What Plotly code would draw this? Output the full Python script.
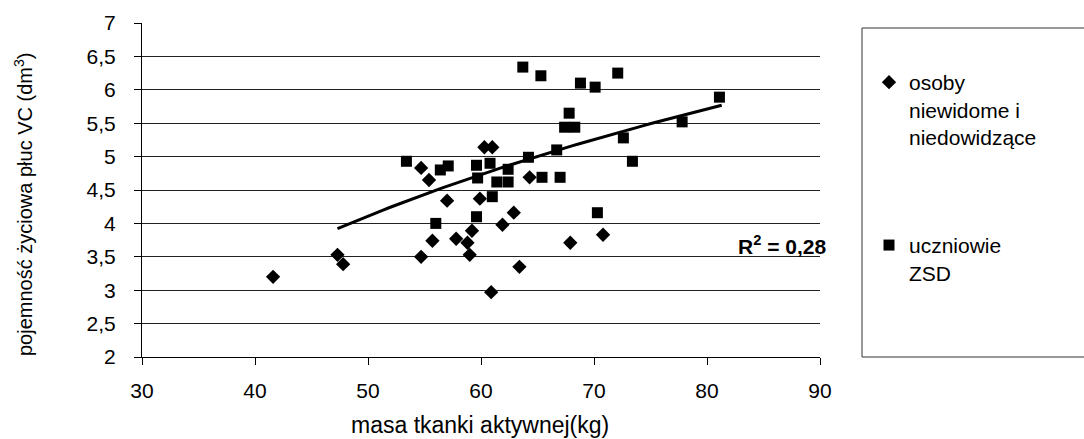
import numpy as np
import plotly.graph_objects as go

# --- data ---
blind_x = [41.6, 47.3, 47.8, 54.7, 55.7, 57.8, 58.8, 59.2, 59.0, 60.9, 61.9,
           62.9, 63.4, 67.9, 70.8, 57.0, 59.9, 54.7, 55.4, 60.3, 61.0, 64.3]
blind_y = [3.20, 3.53, 3.39, 3.50, 3.74, 3.77, 3.71, 3.89, 3.53, 2.97, 3.98,
           4.16, 3.35, 3.71, 3.83, 4.34, 4.37, 4.83, 4.65, 5.14, 5.14, 4.69]

zsd_x = [63.7, 65.3, 68.8, 70.1, 72.1, 67.8, 67.4, 68.3, 72.6, 73.4, 66.7,
         64.2, 53.4, 56.4, 57.1, 59.6, 60.8, 62.4, 59.7, 61.4, 62.4, 65.4,
         67.0, 61.0, 56.0, 59.6, 70.3, 81.1, 77.8]
zsd_y = [6.34, 6.21, 6.10, 6.04, 6.25, 5.65, 5.44, 5.44, 5.28, 4.93, 5.10,
         4.99, 4.93, 4.80, 4.86, 4.87, 4.90, 4.81, 4.68, 4.62, 4.62, 4.69,
         4.69, 4.40, 4.00, 4.10, 4.16, 5.89, 5.52]

# logarithmic trendline y = a + b*ln(x)
trend_a = -9.23
trend_b = 3.41
trend_x_range = [47.3, 81.3]

series_names = ["osoby<br>niewidome i<br>niedowidzące", "uczniowie<br>ZSD"]
x_ticks = [30, 40, 50, 60, 70, 80, 90]
y_ticks = [2, 2.5, 3, 3.5, 4, 4.5, 5, 5.5, 6, 6.5, 7]
x_title = "masa tkanki aktywnej(kg)"
y_title = "pojemność życiowa płuc VC (dm<sup>3</sup>)"
r2_text = "R<sup>2</sup> = 0,28"

FONT = "Arial, Liberation Sans, sans-serif"

tx = np.linspace(trend_x_range[0], trend_x_range[1], 60)
ty = trend_a + trend_b * np.log(tx)

fig = go.Figure()
fig.add_trace(go.Scatter(
    x=tx, y=ty, mode="lines", line=dict(color="black", width=3),
    showlegend=False, hoverinfo="skip", legendgroup="t"))
fig.add_trace(go.Scatter(
    x=blind_x, y=blind_y, mode="markers", name=series_names[0],
    legendgroup="a",
    marker=dict(symbol="diamond", size=11, color="black")))
fig.add_trace(go.Scatter(
    x=zsd_x, y=zsd_y, mode="markers", name=series_names[1],
    legendgroup="b",
    marker=dict(symbol="square", size=11, color="black")))

L, R, T, B = 142, 264, 23, 82
W, H = 1084, 439
pw, ph = W - L - R, H - T - B

def px_x(p):
    return (p - L) / pw

def px_y(p):
    return (H - B - p) / ph

fig.update_layout(
    width=W, height=H,
    margin=dict(l=L, r=R, t=T, b=B),
    paper_bgcolor="white", plot_bgcolor="white",
    separators=", ",
    font=dict(family=FONT, size=20, color="black"),
    showlegend=True,
    legend=dict(
        x=px_x(869), y=px_y(62), xanchor="left", yanchor="top",
        font=dict(family=FONT, size=21, color="black"),
        bgcolor="rgba(0,0,0,0)", borderwidth=0,
        tracegroupgap=78, valign="top", traceorder="grouped"),
    xaxis=dict(
        range=[30, 90], tickvals=x_ticks, showgrid=False, zeroline=False,
        showline=True, linecolor="black", linewidth=1,
        ticks="outside", ticklen=7, tickcolor="black",
        tickfont=dict(family=FONT, size=21), ticklabelstandoff=8),
    yaxis=dict(
        range=[2, 7], tickvals=y_ticks, showgrid=True, gridcolor="#222222",
        gridwidth=1, zeroline=False,
        showline=True, linecolor="black", linewidth=1,
        ticks="outside", ticklen=7, tickcolor="black",
        tickfont=dict(family=FONT, size=21), ticklabelstandoff=14),
    shapes=[dict(type="rect", xref="paper", yref="paper",
                 x0=px_x(862), x1=px_x(1100), y0=px_y(357), y1=px_y(28),
                 line=dict(color="#333333", width=1), fillcolor="rgba(0,0,0,0)")],
    annotations=[
        dict(text=x_title, xref="paper", yref="paper", x=px_x(480), y=px_y(425),
             xanchor="center", yanchor="middle", showarrow=False,
             font=dict(family=FONT, size=23)),
        dict(text=y_title, xref="paper", yref="paper", x=px_x(23), y=px_y(205),
             xanchor="center", yanchor="middle", showarrow=False, textangle=-90,
             font=dict(family=FONT, size=20)),
        dict(text="<b>" + r2_text + "</b>", xref="paper", yref="paper",
             x=px_x(782), y=px_y(245), xanchor="center", yanchor="middle",
             showarrow=False, font=dict(family=FONT, size=21)),
    ],
)

fig.write_html("out.html")
